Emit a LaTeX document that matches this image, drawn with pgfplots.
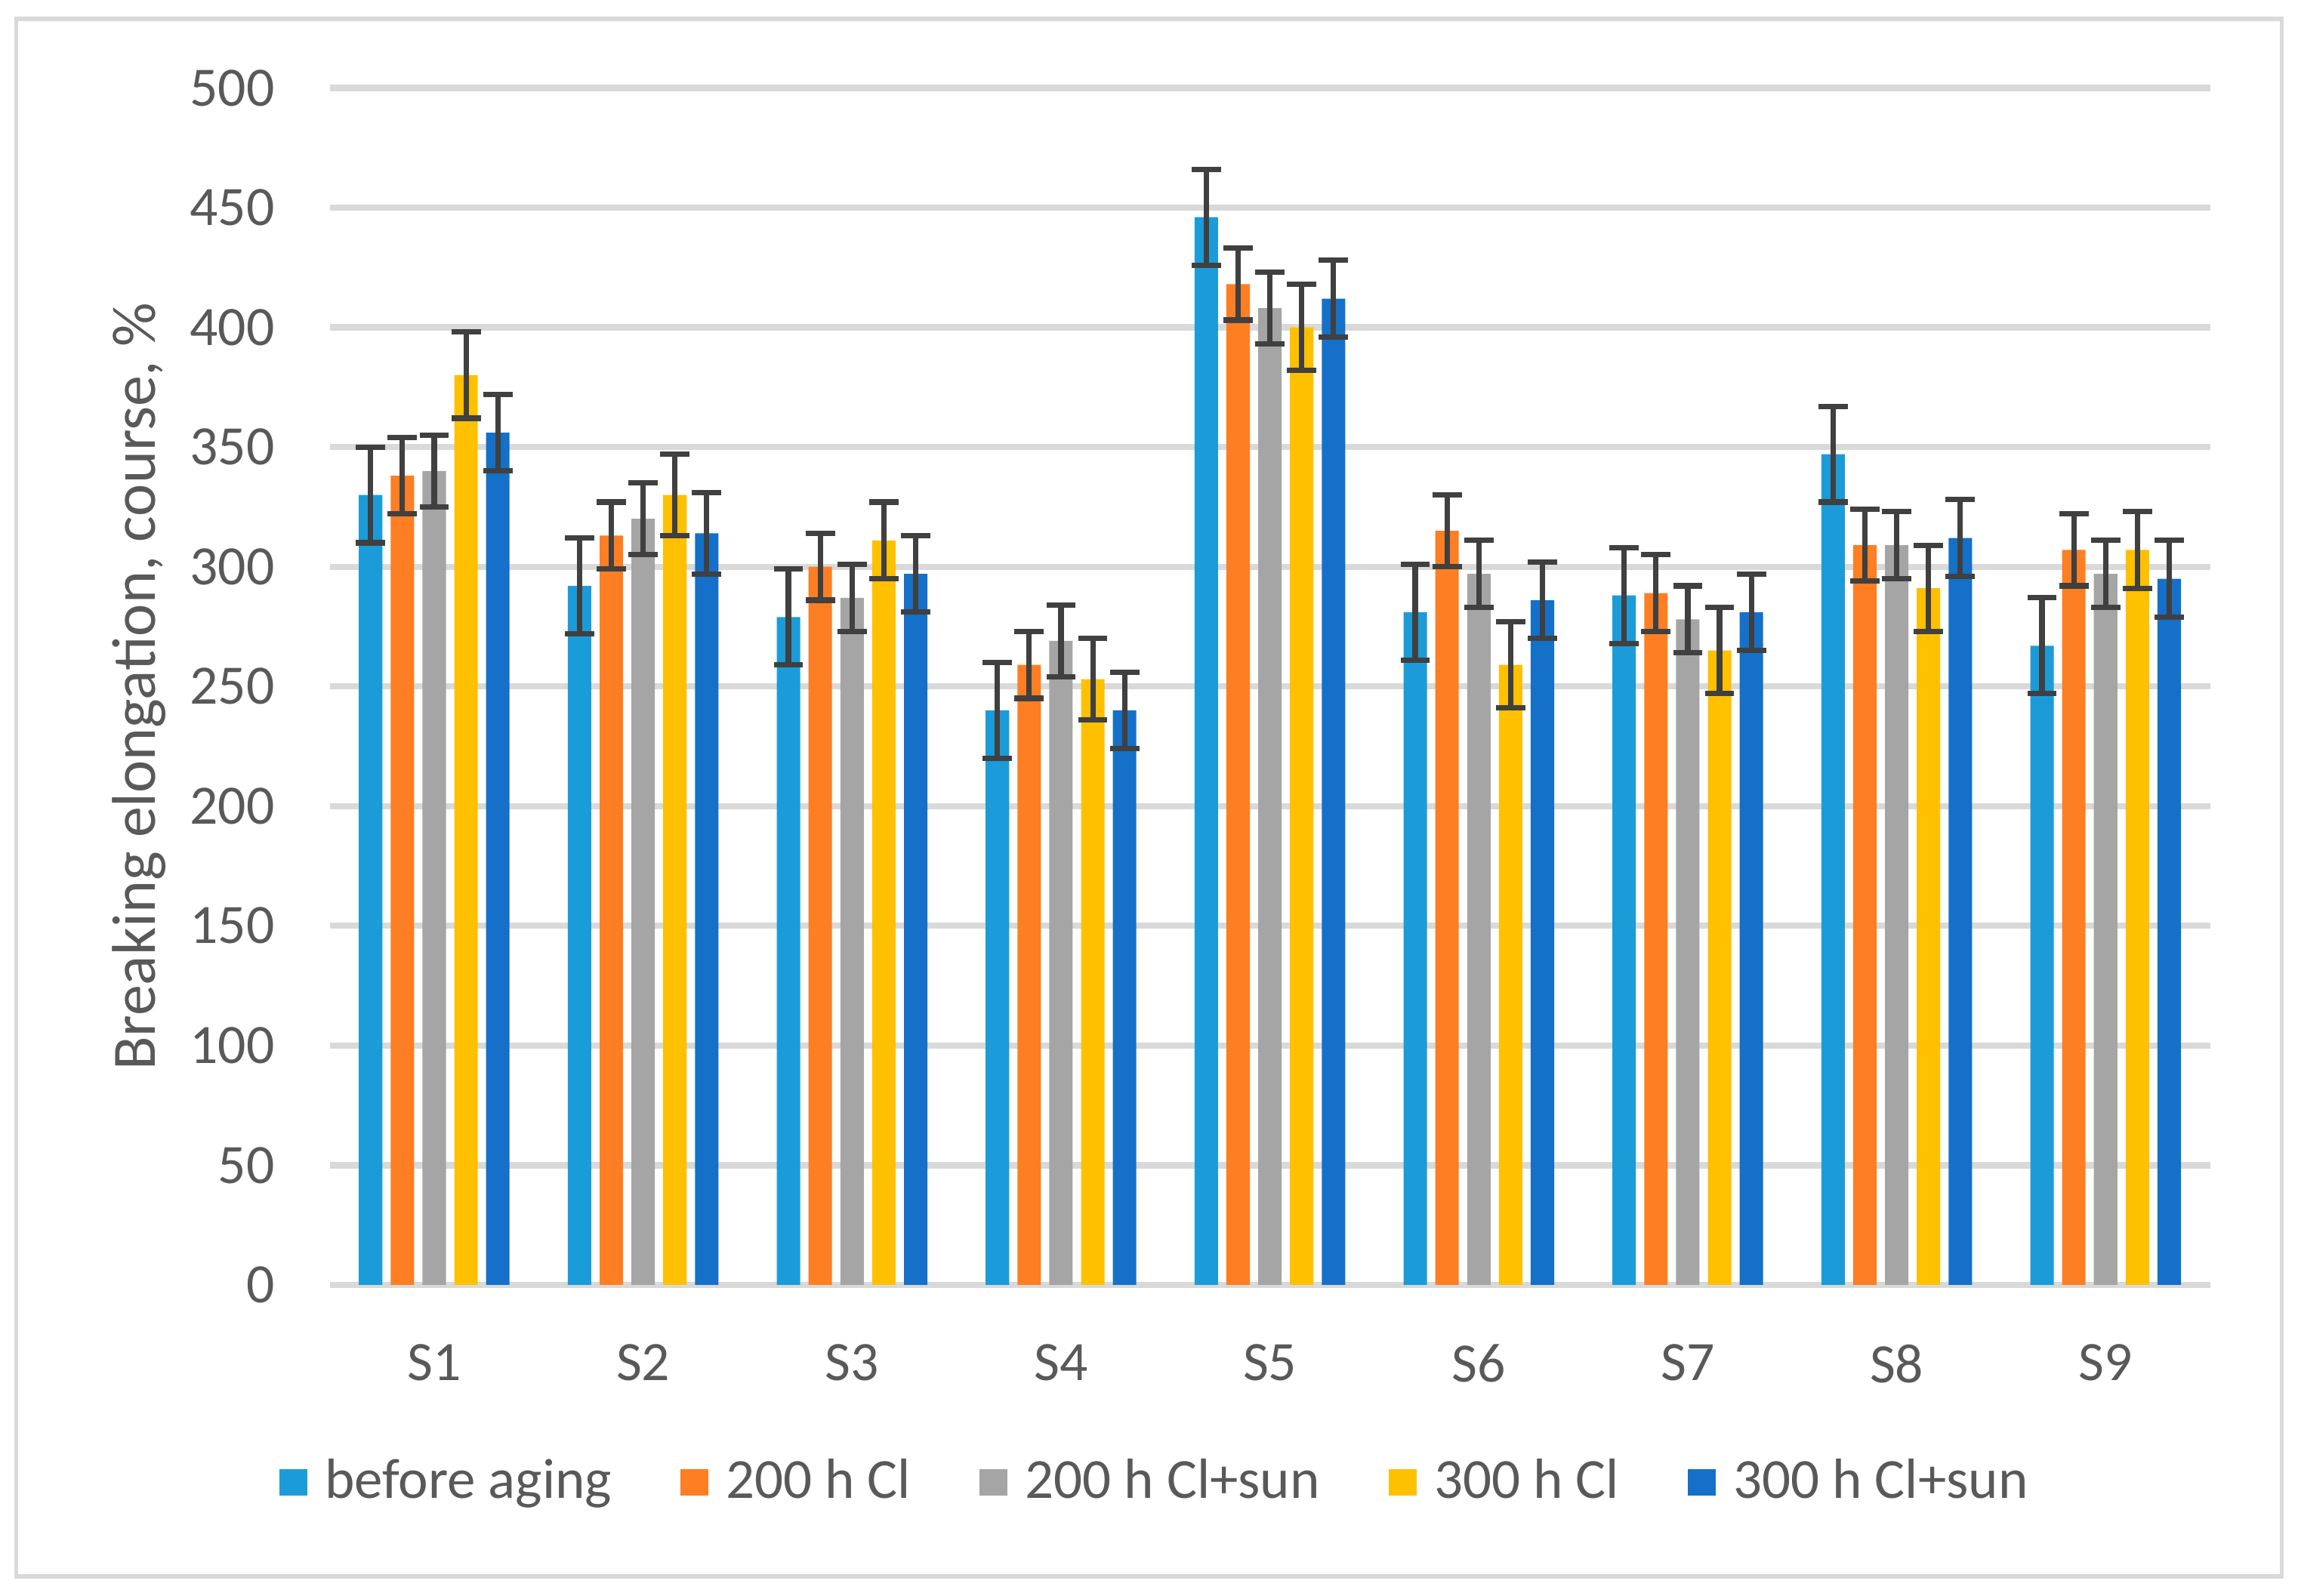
\documentclass[border=0pt]{standalone}
\usepackage{fontspec}
\setmainfont{Carlito}
\usepackage{pgfplots}
\pgfplotsset{compat=1.18}
\definecolor{c1}{HTML}{1B9CD9}
\definecolor{c2}{HTML}{FD7E23}
\definecolor{c3}{HTML}{A5A5A5}
\definecolor{c4}{HTML}{FFC000}
\definecolor{c5}{HTML}{1470C8}
\definecolor{txt}{HTML}{595959}
\definecolor{grd}{HTML}{D9D9D9}
\definecolor{err}{HTML}{404040}
\begin{document}
\begin{tikzpicture}
\path[use as bounding box] (-2.25,-2.12) rectangle (13.43,8.77);
\draw[grd, line width=0.8pt] (-2.14,-1.99) rectangle (13.32,8.64);
\begin{axis}[
  scale only axis, width=12.83cm, height=8.17cm,
  ybar=0.057cm, bar width=0.16cm,
  xmin=0.5, xmax=9.5, ymin=0, ymax=500,
  xtick={1,...,9}, xticklabels={S1,S2,S3,S4,S5,S6,S7,S8,S9},
  ytick={0,50,...,500},
  separate axis lines,
  axis x line*=bottom, axis y line*=left,
  x axis line style={grd, line width=1.2pt, -},
  y axis line style={draw=none},
  major tick length=0,
  ymajorgrids, grid style={grd, line width=1.2pt},
  tick label style={font=\fontsize{10.8}{12}\selectfont, text=txt},
  yticklabel style={anchor=east, inner sep=0pt, xshift=-0.37cm},
  xticklabel style={anchor=north, inner sep=0pt, yshift=-0.4cm},
  /pgf/number format/assume math mode=true,
  ylabel={Breaking elongation, course, \%},
  ylabel style={at={(axis description cs:-0.1013,0.5)}, anchor=center, font=\fontsize{12}{14}\selectfont, text=txt},
  legend style={at={(axis description cs:0.441,-0.165)}, anchor=center, draw=none, fill=none,
    font=\fontsize{11}{12}\selectfont, text=txt, legend columns=5,
    /tikz/every odd column/.append style={column sep=0.05cm},
    /tikz/every even column/.append style={column sep=0.40cm}},
  legend image code/.code={\fill (0cm,-0.09cm) rectangle (0.19cm,0.09cm);},
  error bars/y dir=both, error bars/y explicit,
  error bars/error bar style={draw=err, line width=1.05pt},
  error bars/error mark options={draw=err, rotate=90, mark size=0.1cm, line width=1.05pt},
]
\addplot[fill=c1, draw=none] coordinates {
 (1,330) +- (0,20) (2,292) +- (0,20) (3,279) +- (0,20) (4,240) +- (0,20) (5,446) +- (0,20)
 (6,281) +- (0,20) (7,288) +- (0,20) (8,347) +- (0,20) (9,267) +- (0,20)};
\addplot[fill=c2, draw=none] coordinates {
 (1,338) +- (0,16) (2,313) +- (0,14) (3,300) +- (0,14) (4,259) +- (0,14) (5,418) +- (0,15)
 (6,315) +- (0,15) (7,289) +- (0,16) (8,309) +- (0,15) (9,307) +- (0,15)};
\addplot[fill=c3, draw=none] coordinates {
 (1,340) +- (0,15) (2,320) +- (0,15) (3,287) +- (0,14) (4,269) +- (0,15) (5,408) +- (0,15)
 (6,297) +- (0,14) (7,278) +- (0,14) (8,309) +- (0,14) (9,297) +- (0,14)};
\addplot[fill=c4, draw=none] coordinates {
 (1,380) +- (0,18) (2,330) +- (0,17) (3,311) +- (0,16) (4,253) +- (0,17) (5,400) +- (0,18)
 (6,259) +- (0,18) (7,265) +- (0,18) (8,291) +- (0,18) (9,307) +- (0,16)};
\addplot[fill=c5, draw=none] coordinates {
 (1,356) +- (0,16) (2,314) +- (0,17) (3,297) +- (0,16) (4,240) +- (0,16) (5,412) +- (0,16)
 (6,286) +- (0,16) (7,281) +- (0,16) (8,312) +- (0,16) (9,295) +- (0,16)};
\legend{before aging, 200 h Cl, 200 h Cl+sun, 300 h Cl, 300 h Cl+sun}
\end{axis}
\end{tikzpicture}
\end{document}
